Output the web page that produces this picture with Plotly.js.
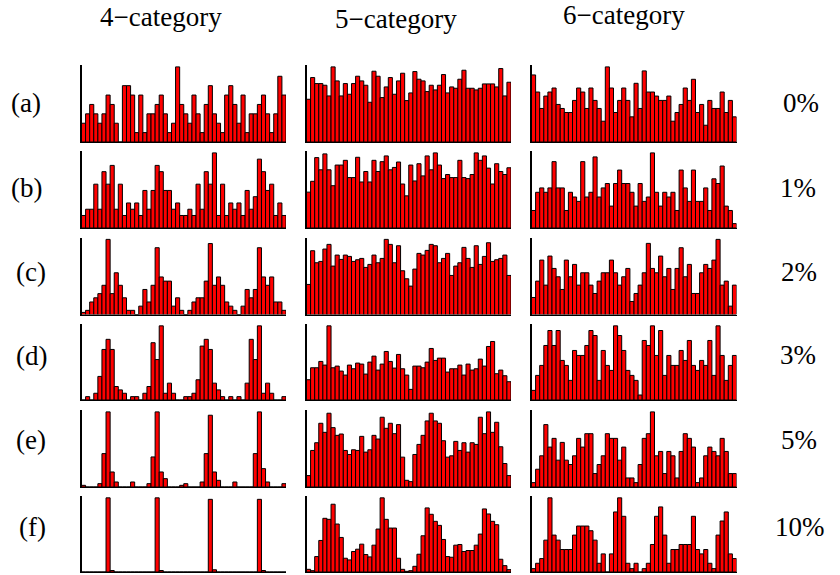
<!DOCTYPE html>
<html>
<head>
<meta charset="utf-8">
<script src="https://cdn.plot.ly/plotly-3.0.1.min.js"></script>
<style>html,body{margin:0;padding:0;background:#fff;}#chart{width:840px;height:575px;}</style>
</head>
<body>
<div id="chart"></div>
<script>
// ---- Data (relative bar heights, 50 bins per panel) ----
const categories = ['4\u2212category', '5\u2212category', '6\u2212category'];
const rowLabels = ['(a)', '(b)', '(c)', '(d)', '(e)', '(f)'];
const mutationRates = ['0%', '1%', '2%', '3%', '5%', '10%'];

// 4-category column
const cat4_a = [2,3,4,3,2,3,5,4,2,0,6,6,5,1,5,1,3,3,4,5,3,1,2,8,4,3,2,5,3,1,4,6,3,2,1,5,6,4,2,5,1,3,3,4,5,3,1,3,7,5];
const cat4_b = [2,3,3,7,3,9,7,10,3,7,2,4,3,4,2,6,3,6,10,9,6,6,3,4,2,2,3,2,7,3,9,7,12,2,7,2,4,3,4,2,6,3,5,11,9,6,7,2,4,2];
const cat4_c = [0.5,1,3,4,5,7,18,5,10,7,4,1,1,0,2,6,3,7,16,9,8,8,2,4,1,0,1,3,4,4,8,17,7,9,7,3,2,1,0,2,6,4,6,16,9,7,9,3,3,1];
const cat4_d = [0,1,0,2,7,15,18,15,4,3,2,0,1,1,0,2,4,17,12,22,2,5,2,0,0,1,1,2,6,16,18,15,5,3,1,0,1,0,1,0,5,18,12,22,2,5,2,0,0,1];
const cat4_e = [1,0,0,0,2,20,45,9,3,0,0,0,3,0,0,0,2,18,45,9,5,0,0,0,1,2,0,0,0,3,20,43,9,4,0,0,0,3,0,0,0,0,20,45,11,3,0,0,0,2];
const cat4_f = [0,0,0,0,0,0,100,2,0,0,0,0,0,0,0,0,0,0,100,2,0,0,0,0,0,0,0,0,0,0,0,98,3,0,0,0,0,0,0,0,0,0,0,98,2,0,0,0,0,0];

// 5-category column
const cat5_a = [128,193,175,175,170,138,225,183,138,175,143,175,197,183,170,119,212,197,133,165,193,143,183,206,124,147,211,188,183,151,170,156,170,202,147,165,161,188,215,161,161,156,161,174,174,174,165,220,138,179];
const cat5_b = [106,138,208,172,219,172,125,186,186,200,149,149,209,136,167,136,200,167,196,213,172,179,195,130,95,186,139,190,154,213,172,222,186,146,158,149,149,200,149,146,158,222,200,213,177,130,190,167,158,178];
const cat5_c = [90,191,155,159,196,210,145,178,165,178,174,159,164,168,141,150,178,155,168,225,210,155,206,131,107,85,136,183,178,192,210,206,155,168,183,117,145,155,201,168,141,206,150,174,215,159,164,168,178,117];
const cat5_d = [61,97,97,116,105,223,97,102,87,75,105,94,111,108,78,114,132,90,108,146,116,96,137,94,75,32,102,102,97,114,155,119,126,126,84,94,94,105,75,108,90,94,123,102,161,176,79,90,73,55];
const cat5_e = [34,109,132,190,163,220,177,154,158,109,97,111,109,151,104,111,154,143,208,175,190,159,186,89,20,16,97,127,154,197,220,197,190,138,89,93,136,109,132,104,132,127,208,159,224,163,193,120,70,34];
const cat5_f = [8,4,46,94,160,157,202,143,103,41,36,61,68,83,52,45,80,128,221,157,131,131,41,8,2,4,17,53,108,191,172,151,139,97,46,44,80,82,61,64,64,80,113,188,173,151,141,38,19,7];

// 6-category column
const cat6_a = [200,149,100,137,149,161,112,100,88,88,124,161,149,100,161,124,100,62,224,161,88,124,161,124,75,175,100,212,149,149,137,124,124,137,62,88,112,161,124,187,88,112,50,124,100,100,149,88,124,75];
const cat6_b = [52,106,119,106,119,197,119,119,52,106,92,79,197,92,106,211,92,119,132,65,132,172,132,132,106,65,132,79,92,223,106,65,106,92,106,52,172,119,79,172,79,79,119,52,146,132,184,65,52,13];
const cat6_c = [51,100,163,88,175,138,113,75,163,113,150,88,125,125,88,63,100,125,125,163,125,88,113,138,39,63,88,125,213,138,125,175,113,138,75,138,200,113,150,63,63,125,150,138,163,225,88,100,25,88];
const cat6_d = [29,74,104,164,209,164,209,119,104,59,149,134,134,164,209,194,59,149,104,89,223,194,149,89,74,59,15,179,164,223,134,209,74,134,104,104,149,119,179,104,89,119,104,179,74,223,134,59,104,134];
const cat6_e = [13,53,93,186,119,145,80,133,80,67,93,145,119,159,159,40,67,93,159,145,145,80,119,27,27,13,67,145,159,224,93,106,40,106,93,27,106,159,145,119,13,27,93,119,106,93,145,106,40,40];
const cat6_f = [10,26,40,95,221,110,95,67,67,67,110,137,137,137,123,95,26,54,0,54,179,221,166,26,10,26,0,10,26,82,166,194,110,26,67,67,82,82,82,166,67,54,67,26,10,110,152,179,54,40];

const columns = [
  [cat4_a, cat4_b, cat4_c, cat4_d, cat4_e, cat4_f],
  [cat5_a, cat5_b, cat5_c, cat5_d, cat5_e, cat5_f],
  [cat6_a, cat6_b, cat6_c, cat6_d, cat6_e, cat6_f]
];

// ---- Layout geometry (pixels) ----
const W = 840, H = 575;
const colPx = [[81.5, 286], [306.5, 511], [531.5, 736.5]];
const rowPx = [[65, 142], [151, 228], [237.5, 314.5], [324, 400], [410, 487], [496, 572]];
const fx = px => px / W;
const fy = py => 1 - py / H;

const traces = [];
const layout = {
  width: W, height: H,
  margin: {l: 0, r: 0, t: 0, b: 0},
  paper_bgcolor: '#fff', plot_bgcolor: '#fff',
  showlegend: false,
  bargap: 0,
  annotations: []
};

let n = 0;
columns.forEach((col, c) => {
  col.forEach((vals, r) => {
    n += 1;
    const xs = vals.map((_, i) => i + 1);
    const sfx = n === 1 ? '' : String(n);
    traces.push({
      type: 'bar', x: xs, y: vals,
      xaxis: 'x' + sfx, yaxis: 'y' + sfx,
      marker: {color: '#ff0000', line: {color: '#000', width: 1}},
      hoverinfo: 'skip'
    });
    const ymax = Math.max(...vals);
    layout['xaxis' + sfx] = {
      domain: [fx(colPx[c][0]), fx(colPx[c][1])],
      anchor: 'y' + sfx,
      range: [0.5, vals.length + 0.5],
      showline: true, linecolor: '#000', linewidth: 1.2,
      showticklabels: false, ticks: '', showgrid: false, zeroline: false
    };
    layout['yaxis' + sfx] = {
      domain: [fy(rowPx[r][1]), fy(rowPx[r][0])],
      anchor: 'x' + sfx,
      range: [0, ymax * 1.025],
      showline: true, linecolor: '#000', linewidth: 1.2,
      showticklabels: false, ticks: '', showgrid: false, zeroline: false
    };
  });
});

const font = {family: 'Liberation Serif', size: 27, color: '#000'};
const titlePos = [[161, 17], [396, 19], [624, 15]];
categories.forEach((t, i) => {
  layout.annotations.push({text: t, xref: 'paper', yref: 'paper', x: fx(titlePos[i][0]), y: fy(titlePos[i][1]),
    xanchor: 'center', yanchor: 'middle', showarrow: false, font: font});
});
const rowLabelPos = [[26, 103], [26, 188], [31, 272], [31, 356], [31, 440], [32, 527]];
rowLabels.forEach((t, i) => {
  layout.annotations.push({text: t, xref: 'paper', yref: 'paper', x: fx(rowLabelPos[i][0]), y: fy(rowLabelPos[i][1]),
    xanchor: 'center', yanchor: 'middle', showarrow: false, font: font});
});
const ratePos = [[801, 103], [798, 188], [799, 272], [798, 355], [799, 440], [800, 527]];
mutationRates.forEach((t, i) => {
  layout.annotations.push({text: t, xref: 'paper', yref: 'paper', x: fx(ratePos[i][0]), y: fy(ratePos[i][1]),
    xanchor: 'center', yanchor: 'middle', showarrow: false, font: font});
});

Plotly.newPlot('chart', traces, layout, {staticPlot: true, displayModeBar: false});
</script>
</body>
</html>
